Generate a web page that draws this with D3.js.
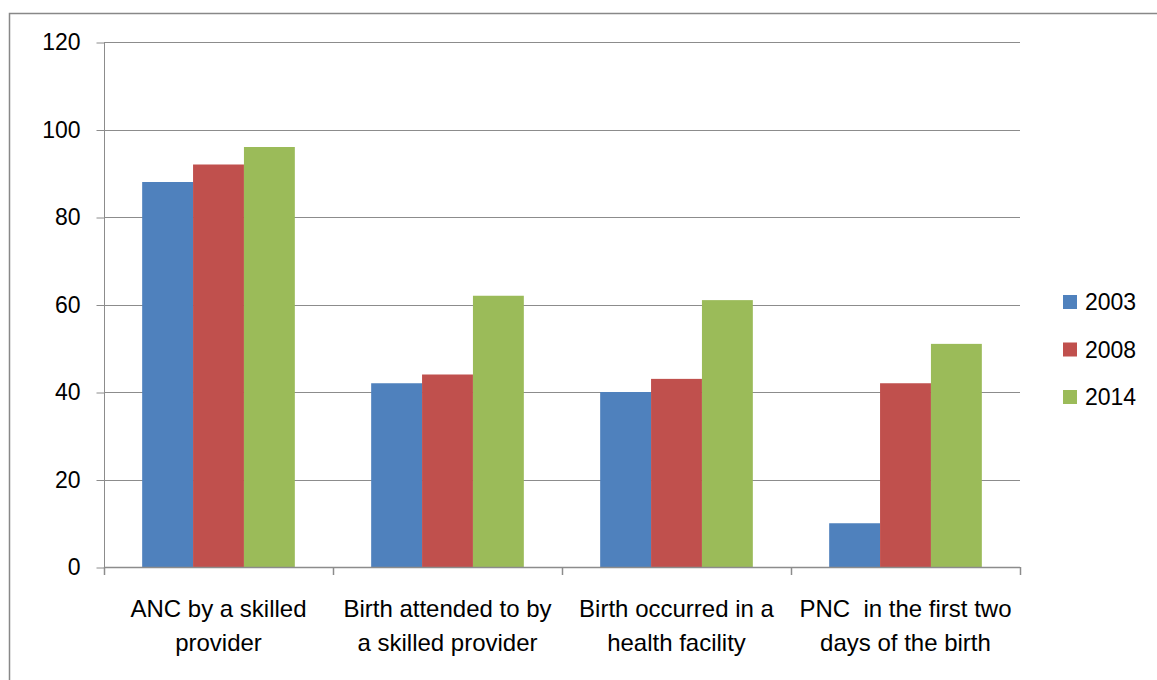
<!DOCTYPE html>
<html>
<head>
<meta charset="utf-8">
<script src="https://cdn.jsdelivr.net/npm/d3@7"></script>
<style>
  html, body { margin: 0; padding: 0; background: #fff; }
  svg { display: block; }
  text { font-family: "Liberation Sans", Arial, sans-serif; font-size: 23px; fill: #000; }
</style>
</head>
<body>
<svg id="chart" width="1157" height="680"></svg>
<script>
const categories = [
  ["ANC by a skilled", "provider"],
  ["Birth attended to by", "a skilled provider"],
  ["Birth occurred in a", "health facility"],
  ["PNC  in the first two", "days of the birth"]
];
const seriesNames = ["2003", "2008", "2014"];
const values2003 = [88, 42, 40, 10];
const values2008 = [92, 44, 43, 42];
const values2014 = [96, 62, 61, 51];
const yTicks = [0, 20, 40, 60, 80, 100, 120];
const colors = ["#4F81BD", "#C0504D", "#9BBB59"];

(function () {
const seriesValues = [values2003, values2008, values2014];
const svg = d3.select("#chart");
const gridColor = "#8c8c8c";

// outer frame (clipped at right and bottom)
svg.append("rect")
  .attr("x", 9.5).attr("y", 13.5)
  .attr("width", 1170).attr("height", 700)
  .attr("fill", "none").attr("stroke", "#888").attr("stroke-width", 1.5);

const pLeft = 104, pRight = 1020, pTop = 42, pBottom = 567;
const y = d3.scaleLinear().domain([0, 120]).range([pBottom, pTop]);
const x0 = d3.scaleBand().domain(d3.range(categories.length)).range([pLeft, pRight]).paddingInner(0).paddingOuter(0);
// gap width 150% of bar width: group = 3 bars, gap = 1.5 bars
const groupW = x0.bandwidth() * 3 / 4.5;
const x1 = d3.scaleBand().domain(d3.range(seriesNames.length)).range([0, groupW]);

// gridlines
svg.append("g").selectAll("line").data(yTicks.filter(d => d > 0)).join("line")
  .attr("x1", pLeft).attr("x2", pRight)
  .attr("y1", d => Math.round(y(d)) + 0.5).attr("y2", d => Math.round(y(d)) + 0.5)
  .attr("stroke", gridColor).attr("stroke-width", 1);

// bars
const groups = svg.append("g").selectAll("g").data(categories.map((c, i) => i)).join("g")
  .attr("transform", i => `translate(${x0(i) + (x0.bandwidth() - groupW) / 2},0)`);
groups.selectAll("rect").data(i => seriesValues.map((s, k) => ({ k, v: s[i] }))).join("rect")
  .attr("x", d => x1(d.k)).attr("width", x1.bandwidth())
  .attr("y", d => y(d.v)).attr("height", d => y(0) - y(d.v))
  .attr("fill", d => colors[d.k]);

// y axis
const yAxis = d3.axisLeft(y).tickValues(yTicks).tickSize(8).tickPadding(16).tickFormat(d3.format("d"));
const gy = svg.append("g").attr("transform", `translate(${pLeft + 0.5},0.5)`).call(yAxis);
gy.select(".domain").attr("stroke", gridColor).attr("d", `M0,${pTop}V${pBottom}`);
gy.selectAll(".tick line").attr("stroke", gridColor);
gy.selectAll(".tick text").attr("font-size", 23).attr("font-family", "Liberation Sans, Arial, sans-serif").attr("fill", "#000");

// x axis baseline with ticks at category boundaries
const boundaries = d3.range(categories.length + 1).map(i => i === categories.length ? pRight : x0(i));
svg.append("line").attr("x1", pLeft).attr("x2", pRight)
  .attr("y1", pBottom + 0.5).attr("y2", pBottom + 0.5)
  .attr("stroke", gridColor).attr("stroke-width", 1.5);
svg.append("g").selectAll("line").data(boundaries).join("line")
  .attr("x1", d => Math.round(d) + 0.5).attr("x2", d => Math.round(d) + 0.5)
  .attr("y1", pBottom).attr("y2", pBottom + 8)
  .attr("stroke", gridColor).attr("stroke-width", 1.5);

// category labels
const lab = svg.append("g").selectAll("text").data(categories).join("text")
  .attr("text-anchor", "middle")
  .attr("font-size", 24)
  .attr("x", (d, i) => x0(i) + x0.bandwidth() / 2)
  .attr("y", 617)
  .style("font-size", "24px")
  .style("white-space", "pre");
lab.selectAll("tspan").data(d => d).join("tspan")
  .attr("x", function () { return d3.select(this.parentNode).attr("x"); })
  .attr("dy", (d, j) => j === 0 ? 0 : 34)
  .text(d => d);

// legend
const leg = svg.append("g").selectAll("g").data(seriesNames).join("g")
  .attr("transform", (d, i) => `translate(1063,${295 + i * 47.5})`);
leg.append("rect").attr("width", 14).attr("height", 14).attr("fill", (d, i) => colors[i]);
leg.append("text").attr("x", 22).attr("y", 7).attr("dominant-baseline", "central").text(d => d);
})();
</script>
</body>
</html>
